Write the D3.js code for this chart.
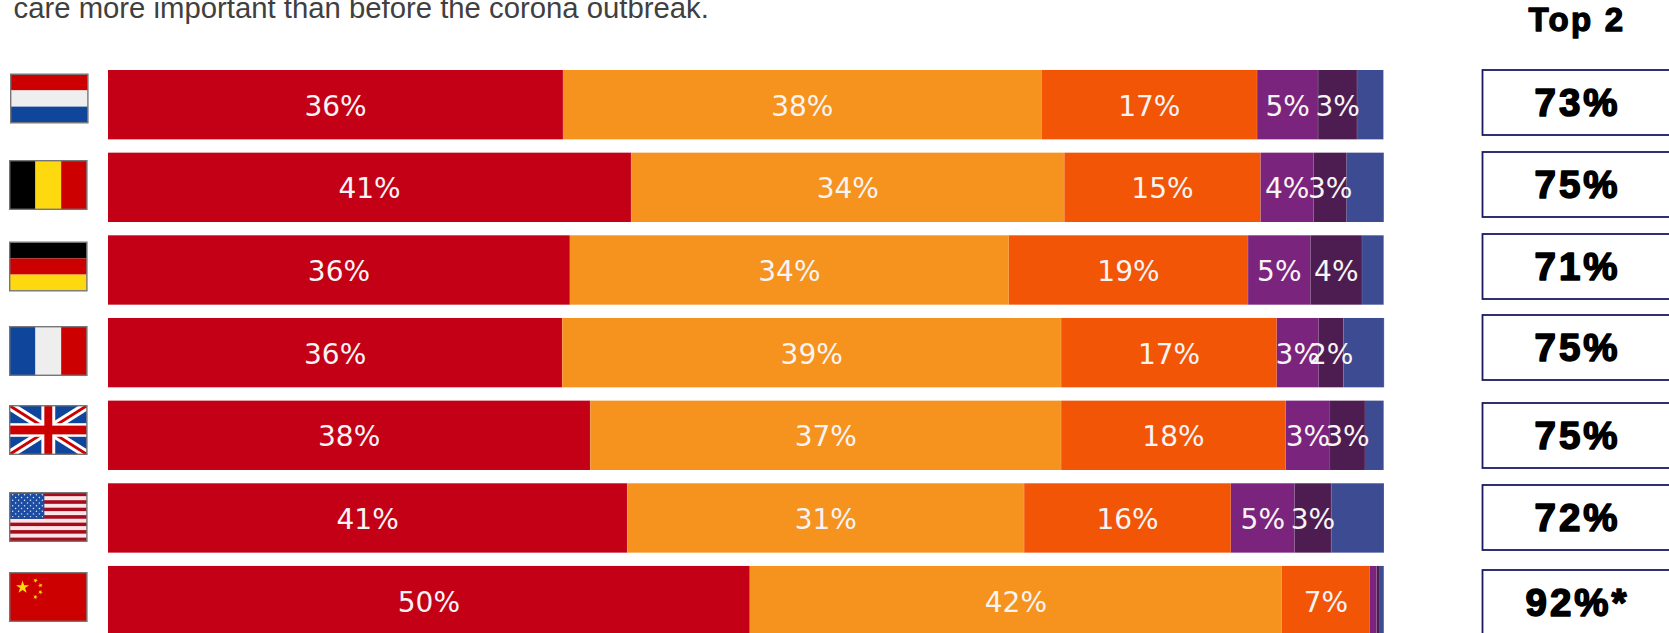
<!DOCTYPE html>
<html><head><meta charset="utf-8">
<script src="https://cdn.jsdelivr.net/npm/d3@7"></script>
<style>html,body{margin:0;padding:0;background:#fff;overflow:hidden}svg{display:block}</style>
</head><body><svg id="c" width="1669" height="633"></svg>
<script>
const countries = ["Netherlands","Belgium","Germany","France","United Kingdom","United States","China"];
const much = [35.66,41.0,36.2,35.6,37.8,40.7,50.3];
const somewhat = [37.5,33.95,34.4,39.1,36.9,31.1,41.7];
const same = [16.9,15.38,18.75,16.9,17.6,16.2,6.9];
const less = [4.78,4.15,4.89,3.29,3.47,5.0,0.52];
const muchLess = [3.05,2.6,4.04,1.93,2.74,2.87,0.26];
const dontKnow = [2.07,2.91,1.7,3.19,1.47,4.13,0.31];
const top2 = ["73%","75%","71%","75%","75%","72%","92%*"];
const seriesNames = ["much","somewhat","same","less","muchLess","dontKnow"];
const seriesValues = [much,somewhat,same,less,muchLess,dontKnow];
const seriesColors = ["#c40016","#f6921e","#f25506","#7a247d","#4d1d52","#3d4c92"];
const labelledSeries = ["much","somewhat","same","less","muchLess"];
const titleText = "care more important than before the corona outbreak.";
const top2Title = "Top 2";

// layout only
const boxTop = [70,152,234,315,403,485,570];
const flagTop = [74.2,160.7,242.2,326.7,405.7,492.7,572.7];
const flagLeft = [10.7,9.7,9.7,9.7,9.7,9.7,9.7];

const svg = d3.select("#c");
const x = d3.scaleLinear().domain([0,100]).range([108,1384]);
const y = d3.scaleBand().domain(countries).range([70,635.3]).paddingInner(0.161).paddingOuter(0);

svg.append("text").attr("x",13.5).attr("y",18.3).attr("fill","#404040")
  .style("font","29.3px 'Liberation Sans',Arial,sans-serif").text(titleText);

const stack = d3.stack().keys(seriesNames)(countries.map((c,i)=>{
  const o={country:c}; seriesNames.forEach((s,j)=>o[s]=seriesValues[j][i]); return o;}));
const rows = svg.append("g");
stack.forEach((layer,j)=>{
  const g = rows.append("g");
  g.selectAll("rect").data(layer).join("rect")
    .attr("x",d=>x(d[0])).attr("y",d=>y(d.data.country))
    .attr("width",d=>x(d[1])-x(d[0])).attr("height",y.bandwidth())
    .attr("fill",seriesColors[j]);
  g.selectAll("line").data(layer).join("line")
    .attr("x1",d=>x(d[1])).attr("x2",d=>x(d[1]))
    .attr("y1",d=>y(d.data.country)).attr("y2",d=>y(d.data.country)+y.bandwidth())
    .attr("stroke","rgba(255,255,255,.2)").attr("stroke-width",1);
});
stack.forEach(layer=>{
  if(!labelledSeries.includes(layer.key)) return;
  rows.append("g").selectAll("text").data(layer.filter(d=>d[1]-d[0]>=1.5)).join("text")
    .attr("x",d=>x((d[0]+d[1])/2)).attr("y",d=>y(d.data.country)+y.bandwidth()/2+11)
    .attr("text-anchor","middle").attr("fill","#f8f4f4")
    .style("font","28px 'DejaVu Sans',Verdana,sans-serif")
    .text(d=>Math.round(d[1]-d[0])+"%");
});

// Top 2 column
const heavy = s=>s.attr("fill","#000").attr("stroke","#000").attr("stroke-linejoin","round")
  .attr("text-anchor","middle").style("font-family","'Liberation Sans',Arial,sans-serif").style("font-weight","700");
svg.append("text").attr("x",1577).attr("y",30.7).text(top2Title).call(heavy)
  .attr("stroke-width",1.3).style("font-size","33px").style("letter-spacing","2.3px");
const boxes = svg.append("g").selectAll("g").data(top2).join("g");
boxes.append("rect").attr("x",1482.5).attr("y",(d,i)=>boxTop[i]).attr("width",240).attr("height",65)
  .attr("fill","#fff").attr("stroke","#1b1a64").attr("stroke-width",1.8);
boxes.append("text").attr("x",1577.5).attr("y",(d,i)=>boxTop[i]+45.5).text(d=>d).call(heavy)
  .attr("stroke-width",1.6).style("font-size","38.5px").style("letter-spacing","3px");

// flags
const R="#cc0000",W="#eeeeee",B="#10459c",Y="#ffd90f",K="#000000";
const FW=78,FH=50,OW=77.2,OH=48.6;
function bands(g,cols,vertical){
  const s=d3.scaleBand().domain(d3.range(cols.length)).range([0,vertical?FW:FH]);
  g.selectAll("rect.b").data(cols).join("rect").attr("class","b")
    .attr("x",(d,i)=>vertical?s(i):0).attr("y",(d,i)=>vertical?0:s(i))
    .attr("width",vertical?s.bandwidth():FW).attr("height",vertical?FH:s.bandwidth()).attr("fill",d=>d);
}
function star(cx,cy,r,rot=0){
  const p=d3.range(10).map(i=>{const a=-Math.PI/2+rot+i*Math.PI/5,q=i%2?r*0.382:r;return [cx+q*Math.cos(a),cy+q*Math.sin(a)];});
  return "M"+p.join("L")+"Z";
}
const defs=svg.append("defs");
defs.append("clipPath").attr("id","fc").append("rect").attr("width",FW).attr("height",FH);
defs.append("filter").attr("id","soft").append("feGaussianBlur").attr("stdDeviation",0.5);
const drawers=[
  g=>bands(g,[R,W,B],false),
  g=>bands(g,[K,Y,R],true),
  g=>bands(g,[K,R,Y],false),
  g=>bands(g,[B,W,R],true),
  g=>{
    g.append("rect").attr("width",FW).attr("height",FH).attr("fill",B);
    const diag=[[0,0,FW,FH],[FW,0,0,FH]];
    g.selectAll("line.w").data(diag).join("line").attr("class","w")
      .attr("x1",d=>d[0]).attr("y1",d=>d[1]).attr("x2",d=>d[2]).attr("y2",d=>d[3]).attr("stroke","#fff").attr("stroke-width",9);
    g.selectAll("line.r").data(diag).join("line").attr("class","r")
      .attr("x1",d=>d[0]).attr("y1",d=>d[1]).attr("x2",d=>d[2]).attr("y2",d=>d[3]).attr("stroke",R).attr("stroke-width",3);
    g.append("rect").attr("x",32).attr("width",14).attr("height",FH).attr("fill","#fff");
    g.append("rect").attr("y",18).attr("width",FW).attr("height",14).attr("fill","#fff");
    g.append("rect").attr("x",35).attr("width",8).attr("height",FH).attr("fill",R);
    g.append("rect").attr("y",20.5).attr("width",FW).attr("height",9).attr("fill",R);
  },
  g=>{
    const sg=g.append("g").attr("filter","url(#soft)");
    const s=d3.scaleBand().domain(d3.range(13)).range([0,FH]);
    sg.selectAll("rect").data(d3.range(13)).join("rect").attr("y",i=>s(i)).attr("width",FW).attr("height",s.bandwidth())
      .attr("fill",i=>i%2?"#fde4e6":"#a5101f");
    sg.append("rect").attr("width",35).attr("height",27).attr("fill","#1f4ea3");
    const dots=[];
    for(let r=0;r<9;r++)for(let c=0;c<(r%2?5:6);c++)dots.push([3+(r%2?3:0)+c*6,2.2+r*2.8]);
    sg.selectAll("circle").data(dots).join("circle").attr("cx",d=>d[0]).attr("cy",d=>d[1]).attr("r",0.75).attr("fill","#dfe8f6");
  },
  g=>{
    g.append("rect").attr("width",FW).attr("height",FH).attr("fill",R);
    g.append("path").attr("d",star(13,15,7)).attr("fill",Y);
    [[26,8,.5],[31,13,1],[31,20,1.6],[26,25,.3]].forEach(d=>g.append("path").attr("d",star(d[0],d[1],2.6,d[2])).attr("fill",Y));
  }
];
drawers.forEach((draw,i)=>{
  const g=svg.append("g").attr("transform",`translate(${flagLeft[i]},${flagTop[i]})`);
  draw(g.append("g").attr("transform",`scale(${OW/FW},${OH/FH})`).append("g").attr("clip-path","url(#fc)"));
  g.append("rect").attr("width",OW).attr("height",OH).attr("fill","none").attr("stroke","#767676").attr("stroke-width",1.4);
});
</script></body></html>
